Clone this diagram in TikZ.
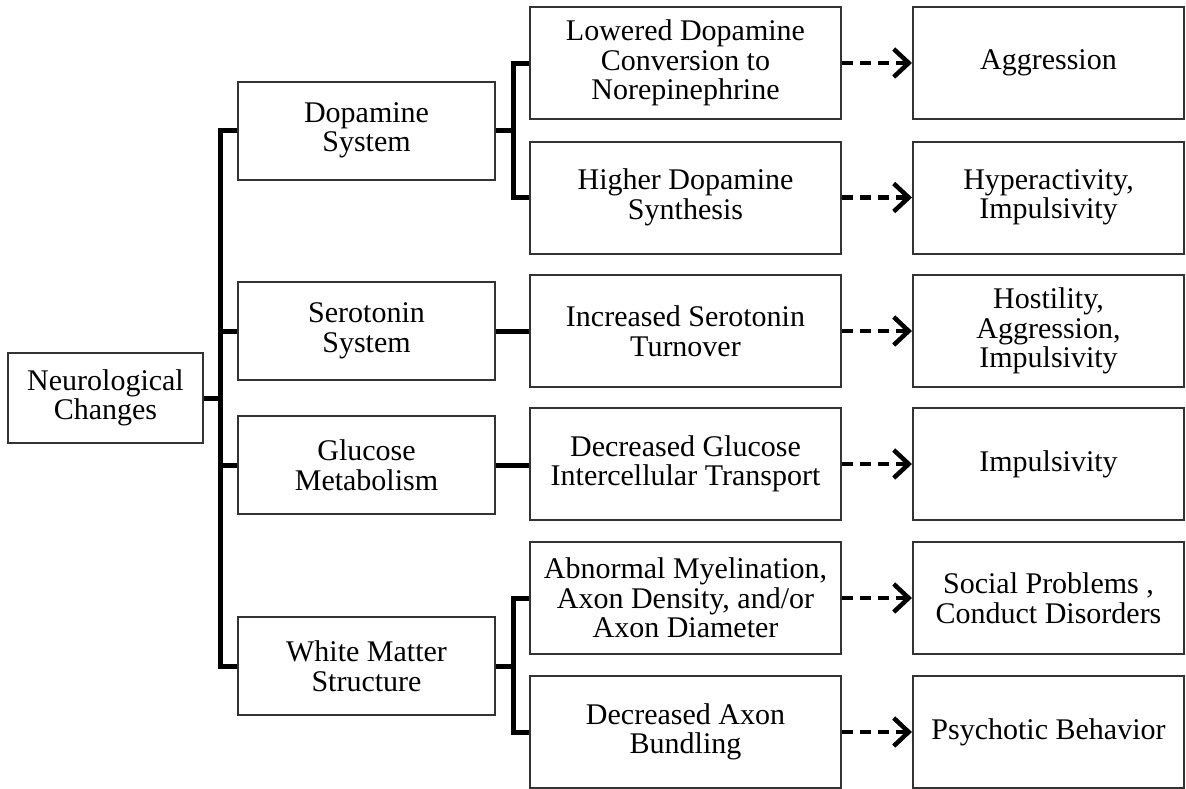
\documentclass[tikz,border=0pt]{standalone}
\usepackage{fontspec}
\setmainfont{Liberation Serif}
\usetikzlibrary{arrows.meta}
\definecolor{boxgray}{HTML}{333333}
\begin{document}
\begin{tikzpicture}[x=1pt,y=-1pt,
  box/.style={draw=boxgray, line width=2pt, align=center, inner sep=0pt, fill=white,
    font=\fontsize{30}{29.5}\selectfont},
  lvlone/.style={box, minimum width=195pt, minimum height=90pt},
  lvltwo/.style={box, minimum width=257pt, minimum height=98pt},
  lvlthree/.style={box, minimum width=311pt, minimum height=112pt},
  lvlfour/.style={box, minimum width=271pt, minimum height=112pt},
  bracket/.style={line width=5pt, black},
  dasharrow/.style={line width=4.5pt, black, dash pattern=on 11pt off 7pt,
    -{Straight Barb[length=15pt,width=28pt,line width=4.5pt]}}
]
\useasboundingbox (0,0) rectangle (1186,788);
\fill[white] (0,0) rectangle (1186,788);

\coordinate (sp) at (220,0);
\coordinate (ba) at (513,0);

% level one
\node[lvlone] (nc) at (105.5,398) {Neurological\\Changes};

% level two
\node[lvltwo] (dop) at (366.5,130.5) {Dopamine\\System};
\node[lvltwo] (ser) at (366.5,331) {Serotonin\\System};
\node[lvltwo] (glu) at (366.5,465) {Glucose\\Metabolism};
\node[lvltwo] (wm)  at (366.5,666) {White Matter\\Structure};

% level three
\node[lvlthree] (ca) at (685.5,63)    {Lowered Dopamine\\Conversion to\\Norepinephrine};
\node[lvlthree] (cb) at (685.5,197.5) {Higher Dopamine\\Synthesis};
\node[lvlthree] (cc) at (685.5,331)   {Increased Serotonin\\Turnover};
\node[lvlthree] (cd) at (685.5,464)   {Decreased Glucose\\Intercellular Transport};
\node[lvlthree] (ce) at (685.5,598)   {Abnormal Myelination,\\Axon Density, and/or\\Axon Diameter};
\node[lvlthree] (cf) at (685.5,732)   {Decreased Axon\\Bundling};

% level four
\node[lvlfour] (da) at (1048.5,63)    {Aggression};
\node[lvlfour] (db) at (1048.5,197.5) {Hyperactivity,\\Impulsivity};
\node[lvlfour] (dc) at (1048.5,331)   {Hostility,\\Aggression,\\Impulsivity};
\node[lvlfour] (dd) at (1048.5,464)   {Impulsivity};
\node[lvlfour] (de) at (1048.5,598)   {Social Problems ,\\Conduct Disorders};
\node[lvlfour] (df) at (1048.5,732)   {Psychotic Behavior};

% spine
\draw[bracket] (nc.east) -- (sp |- nc.east);
\draw[bracket] (dop.west) -| (sp |- wm.west) -- (wm.west);
\draw[bracket] (sp |- ser.west) -- (ser.west);
\draw[bracket] (sp |- glu.west) -- (glu.west);

% dopamine bracket
\draw[bracket] (dop.east) -- (ba |- dop.east);
\draw[bracket] (ca.west) -| (ba |- cb.west) -- (cb.west);
% serotonin, glucose
\draw[bracket] (ser.east) -- (cc.west);
\draw[bracket] (glu.east) -- (cd.west |- glu.east);
% white matter bracket
\draw[bracket] (wm.east) -- (ba |- wm.east);
\draw[bracket] (ce.west) -| (ba |- cf.west) -- (cf.west);

% dashed arrows
\draw[dasharrow] (ca.east) -- (da.west);
\draw[dasharrow] (cb.east) -- (db.west);
\draw[dasharrow] (cc.east) -- (dc.west);
\draw[dasharrow] (cd.east) -- (dd.west);
\draw[dasharrow] (ce.east) -- (de.west);
\draw[dasharrow] (cf.east) -- (df.west);
\end{tikzpicture}
\end{document}
